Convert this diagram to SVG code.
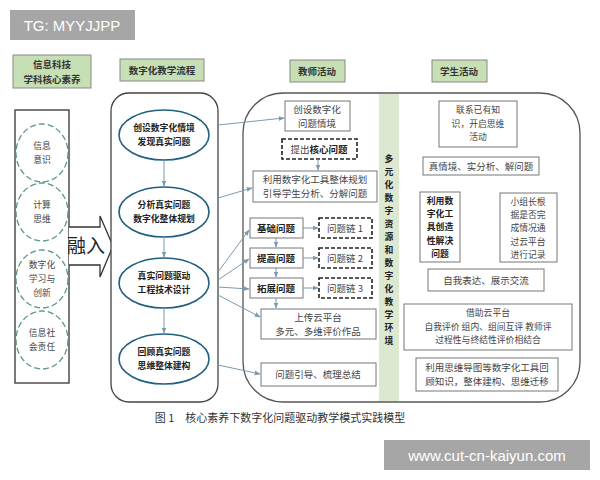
<svg xmlns="http://www.w3.org/2000/svg" width="600" height="480" viewBox="0 0 600 480">
<defs>
<marker id="ar" viewBox="0 0 10 10" refX="9" refY="5" markerWidth="6" markerHeight="6" orient="auto"><path d="M0,1 L10,5 L0,9 z" fill="#7a9ab0"/></marker>
<style>
text{font-family:"Noto Sans CJK SC","Noto Sans",sans-serif;fill:#333;text-anchor:middle}
.hd{fill:#c6dfb4;stroke:#888;stroke-width:1}
.hdt{font-size:9.5px;font-weight:bold}
.bx{fill:#fff;stroke:#777;stroke-width:1}
.db{fill:#fff;stroke:#222;stroke-width:1.6;stroke-dasharray:4,2}
.t{font-size:9.5px;fill:#444}
.s{font-size:8.8px;fill:#444}
.b{font-size:9.5px;font-weight:bold;fill:#222}
.bs{font-size:8.8px;font-weight:bold;fill:#222}
.v{font-size:8.8px;font-weight:bold;fill:#222}
.el{fill:#fff;stroke:#1f5f7f;stroke-width:1.6}
.ge{fill:#fff;stroke:#5a9a7a;stroke-width:1.3;stroke-dasharray:6,3}
.c{stroke:#7a9ab0;stroke-width:1;fill:none;marker-end:url(#ar)}
</style>
</defs>
<rect width="600" height="480" fill="#fff"/>
<g id="wm1"><rect x="10" y="10" width="125" height="30" fill="#a6a6a6"/><text x="72" y="31" style="font-family:'Liberation Sans',sans-serif;font-size:15px;fill:#fff">TG: MYYJJPP</text></g>
<g id="headers">
<rect class="hd" x="13" y="55" width="78" height="33"/><text class="hdt" x="52" y="68">信息科技</text><text class="hdt" x="52" y="83">学科核心素养</text>
<rect class="hd" x="120" y="59" width="84" height="22"/><text class="hdt" x="162" y="74">数字化教学流程</text>
<rect class="hd" x="290" y="60" width="55" height="22"/><text class="hdt" x="317" y="75">教师活动</text>
<rect class="hd" x="432" y="60" width="55" height="22"/><text class="hdt" x="459" y="75">学生活动</text>
</g>
<g id="literacy">
<rect x="15" y="110" width="54" height="273" fill="#fff" stroke="#333" stroke-width="1.3"/>
<path d="M69,227 L100,227 L100,216 L113,246 L100,277 L100,265 L69,265" fill="#fff" stroke="#333" stroke-width="1.3"/>
<text x="86" y="253" style="font-size:19px;fill:#222">融入</text>
<ellipse class="ge" cx="42" cy="153" rx="26" ry="29"/><text class="s" x="42" y="149">信息</text><text class="s" x="42" y="163">意识</text>
<ellipse class="ge" cx="42" cy="212" rx="26" ry="29"/><text class="s" x="42" y="208">计算</text><text class="s" x="42" y="222">思维</text>
<ellipse class="ge" cx="42" cy="279" rx="26" ry="29"/><text class="s" x="42" y="268">数字化</text><text class="s" x="42" y="282">学习与</text><text class="s" x="42" y="296">创新</text>
<ellipse class="ge" cx="42" cy="340" rx="26" ry="29"/><text class="s" x="42" y="336">信息社</text><text class="s" x="42" y="350">会责任</text>
</g>
<g id="flow">
<rect x="111" y="93" width="107" height="309" rx="18" fill="#fff" stroke="#444" stroke-width="1.3"/>
<ellipse class="el" cx="164" cy="135" rx="45" ry="25"/><text class="bs" x="164" y="131">创设数字化情境</text><text class="bs" x="164" y="145">发现真实问题</text>
<ellipse class="el" cx="164" cy="212" rx="45" ry="25"/><text class="bs" x="164" y="208">分析真实问题</text><text class="bs" x="164" y="222">数字化整体规划</text>
<ellipse class="el" cx="164" cy="283" rx="45" ry="25"/><text class="bs" x="164" y="279">真实问题驱动</text><text class="bs" x="164" y="293">工程技术设计</text>
<ellipse class="el" cx="164" cy="359" rx="45" ry="25"/><text class="bs" x="164" y="355">回顾真实问题</text><text class="bs" x="164" y="369">思维整体建构</text>
</g>
<g id="panel">
<rect x="243" y="93" width="337" height="309" rx="40" fill="#fff" stroke="#555" stroke-width="1.3"/>
<rect x="379" y="94" width="20" height="307" fill="#dce8d0"/>
<text class="v" x="389" y="162">多</text><text class="v" x="389" y="175">元</text><text class="v" x="389" y="188">化</text><text class="v" x="389" y="201">数</text><text class="v" x="389" y="214">字</text><text class="v" x="389" y="227">资</text><text class="v" x="389" y="240">源</text><text class="v" x="389" y="253">和</text><text class="v" x="389" y="266">数</text><text class="v" x="389" y="279">字</text><text class="v" x="389" y="292">化</text><text class="v" x="389" y="305">教</text><text class="v" x="389" y="318">学</text><text class="v" x="389" y="331">环</text><text class="v" x="389" y="344">境</text>
</g>
<g id="teacher">
<rect class="bx" x="285" y="101" width="65" height="30"/><text class="t" x="317" y="113">创设数字化</text><text class="t" x="317" y="127">问题情境</text>
<rect class="db" x="282" y="139" width="75" height="20"/><text class="t" x="319" y="153">提出<tspan style="font-weight:bold;fill:#222">核心问题</tspan></text>
<rect class="bx" x="253" y="171" width="124" height="31"/><text class="t" x="315" y="183">利用数字化工具整体规划</text><text class="t" x="315" y="197">引导学生分析、分解问题</text>
<rect class="bx" x="250" y="218" width="53" height="20"/><text class="b" x="276" y="232">基础问题</text>
<rect class="bx" x="250" y="248" width="53" height="20"/><text class="b" x="276" y="262">提高问题</text>
<rect class="bx" x="250" y="278" width="53" height="20"/><text class="b" x="276" y="292">拓展问题</text>
<rect class="db" x="319" y="218" width="53" height="20"/><text class="t" x="345" y="232">问题链 1</text>
<rect class="db" x="319" y="248" width="53" height="20"/><text class="t" x="345" y="262">问题链 2</text>
<rect class="db" x="319" y="278" width="53" height="20"/><text class="t" x="345" y="292">问题链 3</text>
<rect class="bx" x="261" y="309" width="115" height="30"/><text class="t" x="318" y="321">上传云平台</text><text class="t" x="318" y="335">多元、多维评价作品</text>
<rect class="bx" x="261" y="363" width="115" height="23"/><text class="t" x="318" y="378">问题引导、梳理总结</text>
</g>
<g id="student">
<rect class="bx" x="439" y="101" width="78" height="46"/><text class="s" x="478" y="113">联系已有知</text><text class="s" x="478" y="126.5">识，开启思维</text><text class="s" x="478" y="140">活动</text>
<rect class="bx" x="423" y="157" width="116" height="18"/><text class="t" x="481" y="170">真情境、实分析、解问题</text>
<rect class="bx" x="420" y="192" width="40" height="70"/><text class="bs" x="440" y="204">利用数</text><text class="bs" x="440" y="217.2">字化工</text><text class="bs" x="440" y="230.4">具创造</text><text class="bs" x="440" y="243.6">性解决</text><text class="bs" x="440" y="256.8">问题</text>
<rect class="bx" x="500" y="193" width="57" height="69"/><text class="s" x="528" y="205">小组长根</text><text class="s" x="528" y="218.2">据是否完</text><text class="s" x="528" y="231.4">成情况通</text><text class="s" x="528" y="244.6">过云平台</text><text class="s" x="528" y="257.8">进行记录</text>
<rect class="bx" x="428" y="269" width="116" height="22"/><text class="t" x="486" y="284">自我表达、展示交流</text>
<rect class="bx" x="404" y="304" width="168" height="46"/><text class="s" x="488" y="316">借助云平台</text><text class="s" x="488" y="329.5">自我评价 组内、组间互评 教师评</text><text class="s" x="488" y="343">过程性与终结性评价相结合</text>
<rect class="bx" x="416" y="358" width="142" height="33"/><text class="t" x="487" y="371">利用思维导图等数字化工具回</text><text class="t" x="487" y="385">顾知识，整体建构、思维迁移</text>
</g>
<g id="connectors">
<line class="c" x1="164" y1="160" x2="164" y2="186"/>
<line class="c" x1="164" y1="237" x2="164" y2="257"/>
<line class="c" x1="164" y1="308" x2="164" y2="333"/>
<line class="c" x1="218" y1="125" x2="284" y2="118"/>
<line class="c" x1="318" y1="159" x2="318" y2="170"/>
<line class="c" x1="218" y1="198" x2="252" y2="188"/>
<line class="c" x1="218" y1="272" x2="249" y2="230"/>
<line class="c" x1="218" y1="280" x2="249" y2="259"/>
<line class="c" x1="218" y1="287" x2="249" y2="289"/>
<line class="c" x1="218" y1="295" x2="260" y2="317"/>
<line class="c" x1="218" y1="365" x2="260" y2="374"/>
<line class="c" x1="276" y1="238" x2="276" y2="247"/>
<line class="c" x1="276" y1="268" x2="276" y2="277"/>
<line class="c" x1="276" y1="298" x2="276" y2="308"/>
<line class="c" x1="303" y1="228" x2="318" y2="228"/>
<line class="c" x1="303" y1="258" x2="318" y2="258"/>
<line class="c" x1="303" y1="288" x2="318" y2="288"/>
</g>
<text x="280" y="422" style="font-size:11px;fill:#333">图 1　核心素养下数字化问题驱动教学模式实践模型</text>
<g id="wm2"><rect x="384" y="440" width="206" height="30" fill="#a6a6a6"/><text x="487" y="461" style="font-family:'Liberation Sans',sans-serif;font-size:15px;fill:#fff">www.cut-cn-kaiyun.com</text></g>
</svg>
